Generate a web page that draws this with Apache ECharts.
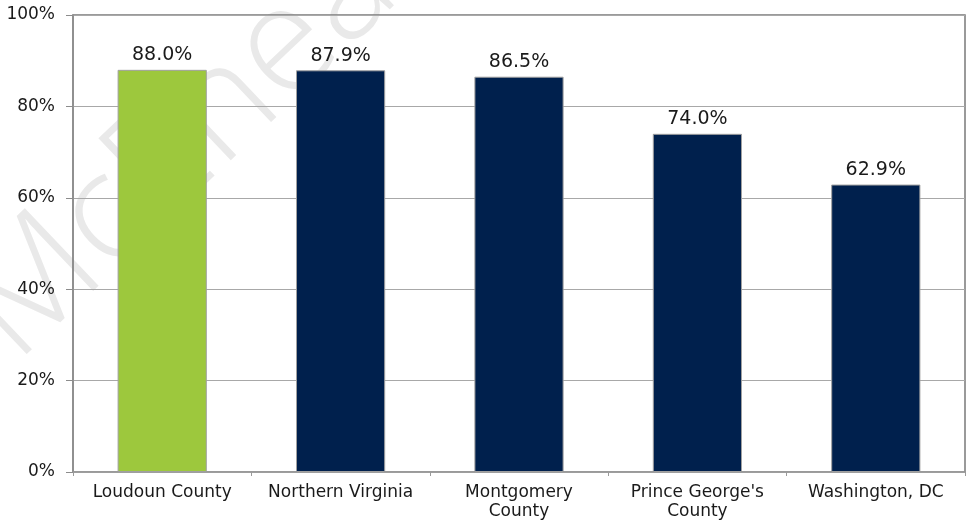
<!DOCTYPE html>
<html>
<head>
<meta charset="utf-8">
<script src="https://cdn.jsdelivr.net/npm/echarts@6/dist/echarts.min.js"></script>
<style>
  html, body { margin: 0; padding: 0; background: #ffffff; }
  #chart { width: 967px; height: 521px; }
</style>
</head>
<body>
<div id="chart"></div>
<script>
// Share of households (percent) by jurisdiction
const categories = ['Loudoun County', 'Northern Virginia', 'Montgomery\nCounty', "Prince George's\nCounty", 'Washington, DC'];
const values = [88.0, 87.9, 86.5, 74.0, 62.9];
const barColors = ['#9dc83d', '#00204d', '#00204d', '#00204d', '#00204d'];
const yTicks = [0, 20, 40, 60, 80, 100];

const font = 'DejaVu Sans';
const chart = echarts.init(document.getElementById('chart'), null, { renderer: 'canvas' });

chart.setOption({
  animation: false,
  backgroundColor: '#ffffff',
  textStyle: { fontFamily: font },
  grid: {
    left: 73, right: 2, top: 15, bottom: 48,
    show: true, borderColor: '#7a7a7a', borderWidth: 1.5, backgroundColor: 'transparent'
  },
  graphic: [{
    type: 'text',
    z: -100,
    x: 38, y: 388,
    rotation: 0.76,
    style: {
      text: 'McEnearney',
      font: '300 150px "Open Sans", "Liberation Sans", sans-serif',
      fill: '#e9e9e9',
      textAlign: 'left',
      textVerticalAlign: 'bottom'
    }
  }],
  xAxis: {
    type: 'category',
    data: categories,
    axisLine: { lineStyle: { color: '#9a9a9a', width: 1.5 } },
    axisTick: { show: true, length: 4, lineStyle: { color: '#9a9a9a' } },
    axisLabel: {
      interval: 0, margin: 11, color: '#1a1a1a',
      fontFamily: font, fontSize: 17, lineHeight: 19
    }
  },
  yAxis: {
    type: 'value',
    min: yTicks[0], max: yTicks[yTicks.length - 1], interval: 20,
    axisLine: { show: true, lineStyle: { color: '#8c8c8c', width: 1.5 } },
    axisTick: { show: true, length: 7, lineStyle: { color: '#8c8c8c' } },
    axisLabel: {
      margin: 18, color: '#1a1a1a', fontFamily: font, fontSize: 17,
      formatter: '{value}%'
    },
    splitLine: { lineStyle: { color: '#a8a8a8', width: 1 } }
  },
  series: [{
    type: 'bar',
    barWidth: '50%',
    data: values.map((v, i) => ({
      value: v,
      itemStyle: { color: barColors[i], borderColor: '#a0a0a0', borderWidth: 1 }
    })),
    label: {
      show: true, position: 'top', distance: 5,
      color: '#1a1a1a', fontFamily: font, fontSize: 19,
      formatter: p => p.value.toFixed(1) + '%'
    }
  }]
});
</script>
</body>
</html>
